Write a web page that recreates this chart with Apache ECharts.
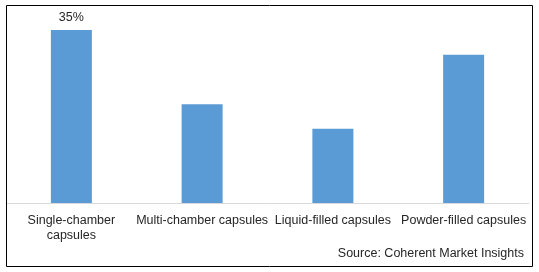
<!DOCTYPE html>
<html><head><meta charset="utf-8">
<script src="https://cdn.jsdelivr.net/npm/echarts@6/dist/echarts.min.js"></script>
<style>html,body{margin:0;padding:0;background:#fff}#c{width:539px;height:272px}</style>
</head><body><div id="c"></div>
<script>
const categories = ["Single-chamber\ncapsules", "Multi-chamber capsules", "Liquid-filled capsules", "Powder-filled capsules"];
const values = [35, 20, 15, 30];
const labelText = ["35%", "", "", ""];
const sourceText = "Source: Coherent Market Insights";

const chart = echarts.init(document.getElementById('c'), null, {renderer: 'canvas'});
chart.setOption({
  animation: false,
  grid: {left: 6, right: 10, top: 30, bottom: 69, containLabel: false},
  xAxis: {
    type: 'category', data: categories,
    axisLine: {lineStyle: {color: '#d9d9d9', width: 1}},
    axisTick: {show: false},
    axisLabel: {color: '#262626', fontSize: 12.5, fontFamily: 'Liberation Sans', margin: 10, lineHeight: 15, interval: 0}
  },
  yAxis: {type: 'value', min: 0, max: 35, show: false, splitLine: {show: false}},
  series: [{
    type: 'bar', data: values, barWidth: 41,
    itemStyle: {color: '#5B9BD5'},
    label: {show: true, position: 'top', distance: 6, color: '#262626', fontSize: 12.5, fontFamily: 'Liberation Sans',
      formatter: p => labelText[p.dataIndex]}
  }],
  graphic: [
    {type: 'rect', shape: {x: 6.5, y: 5.5, width: 526, height: 261}, style: {fill: 'none', stroke: '#000', lineWidth: 1}, z: 10},
    {type: 'text', right: 15, top: 247, style: {text: sourceText, fill: '#262626', font: '12.5px "Liberation Sans"'}}
  ]
});
</script></body></html>
